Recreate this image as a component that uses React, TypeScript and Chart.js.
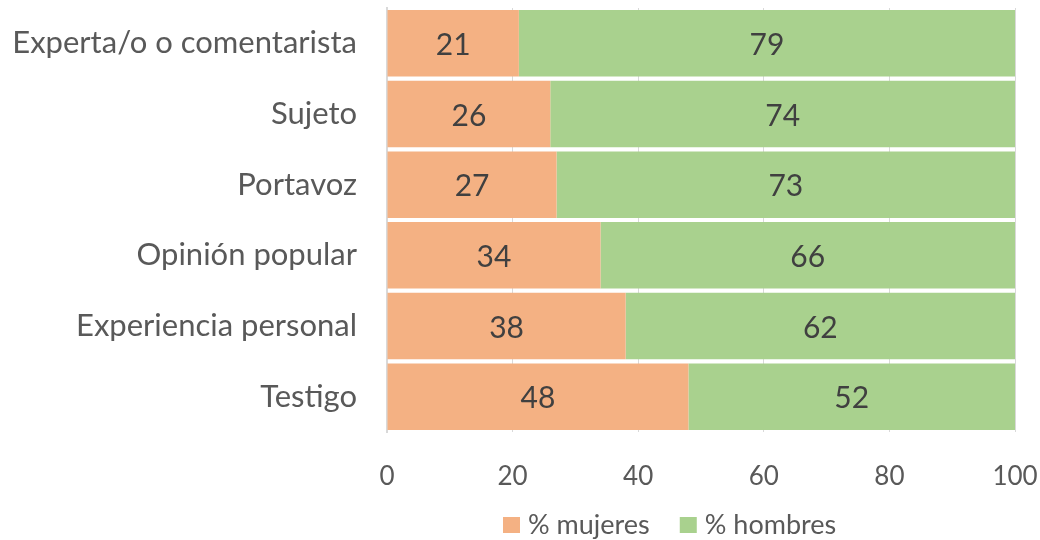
import React, { useEffect, useRef } from "react";
import { Chart, registerables } from "chart.js";

Chart.register(...registerables);

const categories = [
  "Experta/o o comentarista",
  "Sujeto",
  "Portavoz",
  "Opinión popular",
  "Experiencia personal",
  "Testigo",
];
const mujeres = [21, 26, 27, 34, 38, 48];
const hombres = [79, 74, 73, 66, 62, 52];
const xTicks = [0, 20, 40, 60, 80, 100];

const FONT = "Lato, 'Open Sans', sans-serif";

const labelPlugin = {
  id: "barLabels",
  afterDatasetsDraw(chart: any) {
    const ctx = chart.ctx;
    ctx.save();
    ctx.font = `30px ${FONT}`;
    ctx.fillStyle = "#404040";
    ctx.textAlign = "center";
    ctx.textBaseline = "middle";
    chart.data.datasets.forEach((ds: any, di: number) => {
      const meta = chart.getDatasetMeta(di);
      meta.data.forEach((el: any, i: number) => {
        const { x, y, base } = el.getProps(["x", "y", "base"], true);
        ctx.fillText(String(ds.data[i]), (x + base) / 2, y + 2);
      });
    });
    ctx.restore();
  },
};

// Legend drawn below the axis, matching the reference placement
const legendPlugin = {
  id: "customLegend",
  afterDraw(chart: any) {
    const ctx = chart.ctx;
    ctx.save();
    ctx.font = `27px ${FONT}`;
    ctx.textBaseline = "middle";
    ctx.textAlign = "left";
    let x = 503;
    const yMid = 525;
    chart.data.datasets.forEach((ds: any) => {
      ctx.fillStyle = ds.backgroundColor;
      ctx.fillRect(x, yMid - 8, 17, 16);
      x += 17 + 8;
      ctx.fillStyle = "#595959";
      ctx.fillText(ds.label, x, yMid);
      x += ctx.measureText(ds.label).width + 30;
    });
    ctx.restore();
  },
};

const zeroPad = (s: any) => {
  s.paddingTop = 0;
  s.paddingBottom = 0;
  s.paddingLeft = 0;
  s.paddingRight = 0;
};

export default function App() {
  const ref = useRef<HTMLCanvasElement>(null);
  useEffect(() => {
    const chart: any = new Chart(ref.current!, {
      type: "bar",
      data: {
        labels: categories,
        datasets: [
          { label: "% mujeres", data: mujeres, backgroundColor: "#F4B183", barPercentage: 0.94, categoryPercentage: 1 },
          { label: "% hombres", data: hombres, backgroundColor: "#A9D18E", barPercentage: 0.94, categoryPercentage: 1 },
        ],
      },
      options: {
        indexAxis: "y",
        animation: false,
        responsive: false,
        maintainAspectRatio: false,
        layout: { autoPadding: false, padding: { left: 0, right: 25, top: 8, bottom: 0 } },
        scales: {
          x: {
            stacked: true,
            min: 0,
            max: 100,
            afterBuildTicks: (s: any) => { s.ticks = xTicks.map((v) => ({ value: v })); },
            afterFit: (s: any) => { s.height = 108; zeroPad(s); },
            ticks: { color: "#595959", font: { size: 26, family: FONT }, padding: 29 },
            grid: { color: "#D9D9D9", drawTicks: false, lineWidth: 1 },
            border: { display: false },
          },
          y: {
            stacked: true,
            afterFit: (s: any) => { s.width = 387; zeroPad(s); },
            ticks: { color: "#595959", font: { size: 31, family: FONT }, padding: 30 },
            grid: { display: false, drawTicks: false },
            border: { display: true, color: "#D9D9D9", width: 2 },
          },
        },
        plugins: {
          legend: { display: false },
          tooltip: { enabled: false },
        },
      },
      plugins: [labelPlugin, legendPlugin],
    });
    return () => chart.destroy();
  }, []);
  return (
    <div style={{ position: "fixed", left: 0, top: 0, width: 1040, height: 540, background: "#fff" }}>
      <canvas ref={ref} width={1040} height={540} />
    </div>
  );
}
